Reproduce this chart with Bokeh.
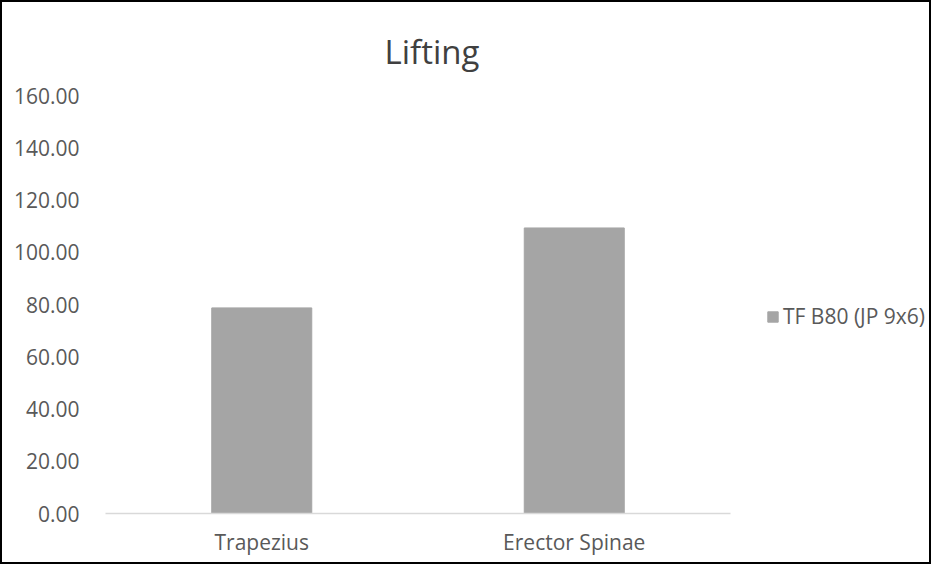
from bokeh.plotting import figure
from bokeh.models import Range1d, FixedTicker, NumeralTickFormatter, ColumnDataSource, Legend, LegendItem
from bokeh.embed import file_html
from bokeh.resources import INLINE

categories = ["Trapezius", "Erector Spinae"]
values = [78.7, 109.3]
series_name = "TF B80 (JP 9x6)"
y_ticks = [0, 20, 40, 60, 80, 100, 120, 140, 160]
title_text = "Lifting"

FONT = "Open Sans"
TXT = "#595959"

# category slot centres on a numeric scale (one unit per category)
xpos = [i + 0.5 for i in range(len(categories))]
src = ColumnDataSource(dict(x=xpos, val=values, cat=categories))

# layout: plot area for the categories is 625 px, the frame extends right to hold the legend
CAT_PX = 625
FRAME_PX = 828
x_end = len(categories) * FRAME_PX / CAT_PX

p = figure(
    width=931, height=564,
    x_range=Range1d(0, x_end),
    y_range=Range1d(0, 160),
    output_backend="svg", toolbar_location=None,
    min_border_left=103, min_border_right=0,
    min_border_top=93, min_border_bottom=53,
)
p.styles = {"border": "2px solid black"}
p.outline_line_color = None
p.background_fill_color = "white"
p.border_fill_color = "white"

r = p.vbar(x="x", top="val", width=0.32, source=src, color="#a5a5a5")

p.title.text = title_text
p.title.align = "left"
p.title.text_font = FONT
p.title.text_font_size = "33px"
p.title.text_font_style = "normal"
p.title.text_color = "#404040"
p.title.offset = 279
p.title.standoff = 44

p.xgrid.visible = False
p.ygrid.visible = False

ya = p.yaxis[0]
ya.ticker = FixedTicker(ticks=y_ticks)
ya.formatter = NumeralTickFormatter(format="0.00")
ya.axis_line_color = None
ya.major_tick_line_color = None
ya.minor_tick_line_color = None
ya.major_label_standoff = 20
ya.major_label_text_font = FONT
ya.major_label_text_font_size = "21px"
ya.major_label_text_color = TXT

xa = p.xaxis[0]
xa.ticker = FixedTicker(ticks=xpos)
xa.major_label_overrides = {x: c for x, c in zip(xpos, categories)}
xa.bounds = (0, len(categories))
xa.axis_line_color = "#d9d9d9"
xa.axis_line_width = 1.5
xa.major_tick_line_color = None
xa.minor_tick_line_color = None
xa.major_label_standoff = 8
xa.major_label_text_font = FONT
xa.major_label_text_font_size = "21px"
xa.major_label_text_color = TXT

lg = Legend(items=[LegendItem(label=series_name, renderers=[r])])
lg.location = (661, 183)
lg.background_fill_alpha = 0
lg.border_line_color = None
lg.padding = 0
lg.margin = 0
lg.glyph_width = 13
lg.glyph_height = 13
lg.label_height = 24
lg.label_standoff = 4
lg.label_text_font = FONT
lg.label_text_font_size = "21px"
lg.label_text_color = TXT
p.add_layout(lg, "center")

open("out.html", "w").write(file_html(p, INLINE))
